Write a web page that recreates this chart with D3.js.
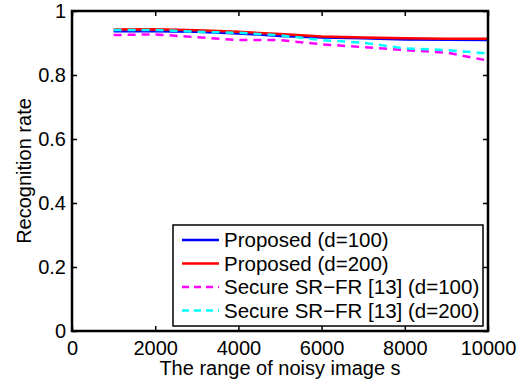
<!DOCTYPE html>
<html>
<head>
<meta charset="utf-8">
<script src="https://cdn.jsdelivr.net/npm/d3@7"></script>
<style>
  body { margin: 0; background: #fff; }
  svg { display: block; font-family: "Liberation Sans", Arial, sans-serif; }
</style>
</head>
<body>
<div id="app"></div>
<script>
// data
const noiseRange = [1000, 2000, 3000, 4000, 5000, 6000, 7000, 8000, 9000, 10000];
const proposed100 = [0.937, 0.937, 0.935, 0.930, 0.922, 0.917, 0.915, 0.911, 0.910, 0.909];
const proposed200 = [0.942, 0.943, 0.940, 0.935, 0.928, 0.920, 0.917, 0.915, 0.913, 0.913];
const secure100 = [0.925, 0.927, 0.918, 0.909, 0.909, 0.896, 0.887, 0.878, 0.870, 0.845];
const secure200 = [0.941, 0.941, 0.935, 0.932, 0.924, 0.909, 0.901, 0.883, 0.878, 0.867];
const xTicks = [0, 2000, 4000, 6000, 8000, 10000];
const yTicks = [0, 0.2, 0.4, 0.6, 0.8, 1];

const seriesList = [
  { name: "Proposed (d=100)", values: proposed100, color: "#0000ff", dash: null },
  { name: "Proposed (d=200)", values: proposed200, color: "#ff0000", dash: null },
  { name: "Secure SR\u2212FR [13] (d=100)", values: secure100, color: "#ff00ff", dash: "8,6" },
  { name: "Secure SR\u2212FR [13] (d=200)", values: secure200, color: "#00ffff", dash: "8,6" }
];

const width = 528, height = 385;
const margin = { top: 11, right: 40, bottom: 54, left: 72 };
const fontSize = 20;

const svg = d3.select("#app").append("svg")
  .attr("width", width)
  .attr("height", height);

const x = d3.scaleLinear().domain([0, 10000]).range([margin.left, width - margin.right]);
const y = d3.scaleLinear().domain([0, 1]).range([height - margin.bottom, margin.top]);

// 軸（内向きの目盛）
const tickLen = 5;
svg.append("g")
  .attr("transform", `translate(0,${y(0)})`)
  .call(d3.axisBottom(x).tickValues(xTicks).tickSize(-tickLen).tickPadding(10).tickFormat(d3.format("d")))
  .call(g => g.select(".domain").remove());
svg.append("g")
  .attr("transform", `translate(0,${y(1)})`)
  .call(d3.axisTop(x).tickValues(xTicks).tickSize(-tickLen).tickFormat(""))
  .call(g => g.select(".domain").remove());
svg.append("g")
  .attr("transform", `translate(${x(0)},0)`)
  .call(d3.axisLeft(y).tickValues(yTicks).tickSize(-tickLen).tickPadding(6).tickFormat(d3.format("~g")))
  .call(g => g.select(".domain").remove());
svg.append("g")
  .attr("transform", `translate(${x(10000)},0)`)
  .call(d3.axisRight(y).tickValues(yTicks).tickSize(-tickLen).tickFormat(""))
  .call(g => g.select(".domain").remove());

svg.selectAll(".tick line").attr("stroke", "#000").attr("stroke-width", 1.5);
svg.selectAll(".tick text")
  .attr("fill", "#000")
  .style("font-size", fontSize + "px")
  .style("font-family", "'Liberation Sans', Arial, sans-serif");

// 線
const line = d3.line()
  .x((d, i) => x(noiseRange[i]))
  .y(d => y(d));

seriesList.forEach(s => {
  svg.append("path")
    .datum(s.values)
    .attr("fill", "none")
    .attr("stroke", s.color)
    .attr("stroke-width", 2.5)
    .attr("stroke-dasharray", s.dash)
    .attr("d", line);
});

// 枠
svg.append("rect")
  .attr("x", x(0))
  .attr("y", y(1))
  .attr("width", x(10000) - x(0))
  .attr("height", y(0) - y(1))
  .attr("fill", "none")
  .attr("stroke", "#000")
  .attr("stroke-width", 2.5);

// 軸ラベル
svg.append("text")
  .attr("x", (x(0) + x(10000)) / 2)
  .attr("y", 375)
  .attr("text-anchor", "middle")
  .style("font-size", fontSize + "px")
  .text("The range of noisy image s");

svg.append("text")
  .attr("transform", `translate(31,${(y(0) + y(1)) / 2}) rotate(-90)`)
  .attr("text-anchor", "middle")
  .style("font-size", fontSize + "px")
  .text("Recognition rate");

// 凡例
const legend = svg.append("g").attr("transform", "translate(173,225)");
legend.append("rect")
  .attr("width", 310)
  .attr("height", 101)
  .attr("fill", "#fff")
  .attr("stroke", "#000")
  .attr("stroke-width", 1.5);

const rows = legend.selectAll("g.row")
  .data(seriesList)
  .enter()
  .append("g")
  .attr("class", "row")
  .attr("transform", (d, i) => `translate(0,${15 + i * 23.5})`);

rows.append("line")
  .attr("x1", 9)
  .attr("x2", 46)
  .attr("stroke", d => d.color)
  .attr("stroke-width", 2.5)
  .attr("stroke-dasharray", d => d.dash ? "7,5" : null);

rows.append("text")
  .attr("x", 51)
  .attr("y", 7)
  .style("font-size", "20.5px")
  .text(d => d.name);
</script>
</body>
</html>
